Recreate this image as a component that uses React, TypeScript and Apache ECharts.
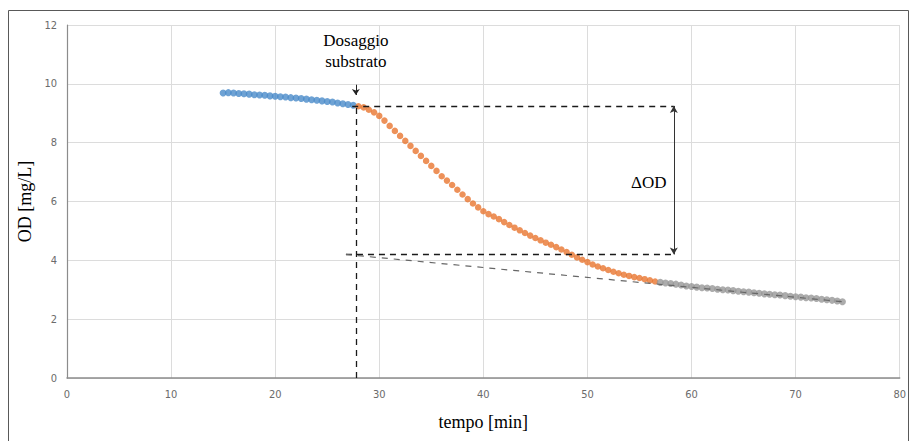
import React, { useEffect, useRef } from "react";
import * as echarts from "echarts";

// Dissolved oxygen readings, sampled every 0.5 min
const blueTimes = [15, 15.5, 16, 16.5, 17, 17.5, 18, 18.5, 19, 19.5, 20, 20.5, 21, 21.5, 22, 22.5, 23, 23.5, 24, 24.5, 25, 25.5, 26, 26.5, 27, 27.5];
const blueOD = [9.69, 9.7, 9.69, 9.67, 9.66, 9.65, 9.63, 9.62, 9.61, 9.59, 9.58, 9.56, 9.55, 9.53, 9.52, 9.5, 9.48, 9.46, 9.44, 9.42, 9.4, 9.38, 9.35, 9.32, 9.3, 9.27];

const orangeTimes = [28, 28.5, 29, 29.5, 30, 30.5, 31, 31.5, 32, 32.5, 33, 33.5, 34, 34.5, 35, 35.5, 36, 36.5, 37, 37.5, 38, 38.5, 39, 39.5, 40, 40.5, 41, 41.5, 42, 42.5, 43, 43.5, 44, 44.5, 45, 45.5, 46, 46.5, 47, 47.5, 48, 48.5, 49, 49.5, 50, 50.5, 51, 51.5, 52, 52.5, 53, 53.5, 54, 54.5, 55, 55.5, 56, 56.5];
const orangeOD = [9.24, 9.2, 9.12, 9.03, 8.91, 8.75, 8.57, 8.4, 8.23, 8.06, 7.89, 7.72, 7.55, 7.38, 7.21, 7.04, 6.86, 6.71, 6.56, 6.4, 6.24, 6.08, 5.93, 5.8, 5.67, 5.57, 5.49, 5.4, 5.3, 5.2, 5.11, 5.02, 4.93, 4.84, 4.76, 4.68, 4.6, 4.53, 4.45, 4.37, 4.28, 4.19, 4.1, 4.02, 3.94, 3.86, 3.79, 3.73, 3.67, 3.61, 3.56, 3.51, 3.47, 3.43, 3.4, 3.36, 3.32, 3.28];

const grayTimes = [57, 57.5, 58, 58.5, 59, 59.5, 60, 60.5, 61, 61.5, 62, 62.5, 63, 63.5, 64, 64.5, 65, 65.5, 66, 66.5, 67, 67.5, 68, 68.5, 69, 69.5, 70, 70.5, 71, 71.5, 72, 72.5, 73, 73.5, 74, 74.5];
const grayOD = [3.25, 3.23, 3.21, 3.19, 3.16, 3.13, 3.11, 3.09, 3.07, 3.06, 3.04, 3.02, 3.0, 2.99, 2.97, 2.95, 2.93, 2.92, 2.9, 2.88, 2.86, 2.85, 2.83, 2.82, 2.8, 2.78, 2.76, 2.75, 2.73, 2.72, 2.7, 2.68, 2.66, 2.64, 2.62, 2.59];

// Construction values for the ΔOD reading
const doseTime = 27.75;
const odBefore = 9.25;
const odBaseline = 4.2;
const deltaTime = 58.3;
const baselineStart = [26.8, 4.2];
const baselineEnd = [74.6, 2.59];

const SERIF = "'Liberation Serif', 'DejaVu Serif', serif";
const NARROW = "'Liberation Sans Narrow', 'DejaVu Sans Condensed', 'Roboto', sans-serif";

const pairs = (xs: number[], ys: number[]) => xs.map((x, i) => [x, ys[i]]);

export default function App() {
  const ref = useRef<HTMLDivElement>(null);

  useEffect(() => {
    if (!ref.current) return;
    const chart = echarts.init(ref.current, undefined, { renderer: "svg" });

    const dashed = { color: "#1a1a1a", type: [6, 5] as any, width: 1.3 };

    chart.setOption({
      animation: false,
      backgroundColor: "#ffffff",
      grid: { left: 67, right: 8, top: 25, bottom: 63, containLabel: false },
      graphic: [
        {
          type: "rect",
          shape: { x: 8.5, y: 10.5, width: 900, height: 445 },
          style: { fill: "none", stroke: "#595959", lineWidth: 1 },
          silent: true,
        },
      ],
      xAxis: {
        type: "value",
        min: 0,
        max: 80,
        interval: 10,
        name: "tempo [min]",
        nameLocation: "middle",
        nameGap: 35,
        nameTextStyle: { fontFamily: SERIF, fontSize: 18, color: "#000" },
        axisLine: { show: true, onZero: false, lineStyle: { color: "#8c8c8c", width: 1.5 } },
        axisTick: { show: false },
        axisLabel: { color: "#6b6b6b", fontFamily: NARROW, fontSize: 11, margin: 11 },
        splitLine: { show: true, lineStyle: { color: "#dcdcdc", width: 1 } },
      },
      yAxis: {
        type: "value",
        min: 0,
        max: 12,
        interval: 2,
        name: "OD [mg/L]",
        nameLocation: "middle",
        nameGap: 32,
        nameTextStyle: { fontFamily: SERIF, fontSize: 18, color: "#000" },
        axisLine: { show: true, lineStyle: { color: "#8c8c8c", width: 1.2 } },
        axisTick: { show: false },
        axisLabel: { color: "#6b6b6b", fontFamily: NARROW, fontSize: 11, margin: 10 },
        splitLine: { show: true, lineStyle: { color: "#dcdcdc", width: 1 } },
      },
      series: [
        {
          type: "line",
          data: [],
          silent: true,
          markLine: {
            silent: true,
            symbol: ["none", "none"],
            label: { show: false },
            lineStyle: dashed,
            data: [
              [{ coord: [doseTime, 0] }, { coord: [doseTime, odBefore + 0.08] }],
              [{ coord: [doseTime - 0.35, odBefore] }, { coord: [deltaTime, odBefore] }],
              [{ coord: [baselineStart[0], odBaseline] }, { coord: [deltaTime, odBaseline] }],
            ],
          },
        },
        {
          type: "line",
          data: [],
          silent: true,
          markLine: {
            silent: true,
            symbol: ["none", "none"],
            label: { show: false },
            lineStyle: { color: "#666666", type: [6, 6] as any, width: 1.2 },
            data: [[{ coord: baselineStart }, { coord: baselineEnd }]],
          },
        },
        {
          type: "line",
          data: [],
          silent: true,
          markLine: {
            silent: true,
            symbol: ["arrow", "arrow"],
            symbolSize: [6, 7],
            label: { show: false },
            lineStyle: { color: "#333", type: "solid", width: 1 },
            data: [[{ coord: [deltaTime, odBefore] }, { coord: [deltaTime, odBaseline] }]],
          },
        },
        {
          type: "line",
          data: [],
          silent: true,
          markLine: {
            silent: true,
            symbol: ["none", "arrow"],
            symbolSize: [6, 6],
            label: { show: false },
            lineStyle: { color: "#222", type: "solid", width: 1 },
            data: [[{ coord: [doseTime, 9.97] }, { coord: [doseTime, 9.62] }]],
          },
          markPoint: {
            silent: true,
            symbol: "rect",
            symbolSize: 1,
            itemStyle: { color: "rgba(0,0,0,0)" },
            label: {
              show: true,
              position: "inside",
              fontFamily: SERIF,
              fontSize: 17,
              lineHeight: 21,
              color: "#000",
              align: "center",
              verticalAlign: "middle",
            },
            data: [
              { coord: [doseTime, 11.13], value: 0, label: { formatter: "Dosaggio\nsubstrato" } },
              { coord: [55.9, 6.63], value: 0, label: { formatter: "ΔOD" } },
            ],
          },
        },
        {
          type: "scatter",
          name: "pre",
          data: pairs(blueTimes, blueOD),
          symbol: "circle",
          symbolSize: 7,
          itemStyle: { color: "#4a8bc9" },
          z: 3,
        },
        {
          type: "scatter",
          name: "dosaggio",
          data: pairs(orangeTimes, orangeOD),
          symbol: "circle",
          symbolSize: 6.5,
          itemStyle: { color: "#e8762f" },
          z: 3,
        },
        {
          type: "scatter",
          name: "post",
          data: pairs(grayTimes, grayOD),
          symbol: "circle",
          symbolSize: 7,
          itemStyle: { color: "#979797" },
          z: 3,
        },
      ],
    });

    return () => chart.dispose();
  }, []);

  return (
    <div
      ref={ref}
      style={{ position: "fixed", left: 0, top: 0, width: 909, height: 441, background: "#fff" }}
    />
  );
}
